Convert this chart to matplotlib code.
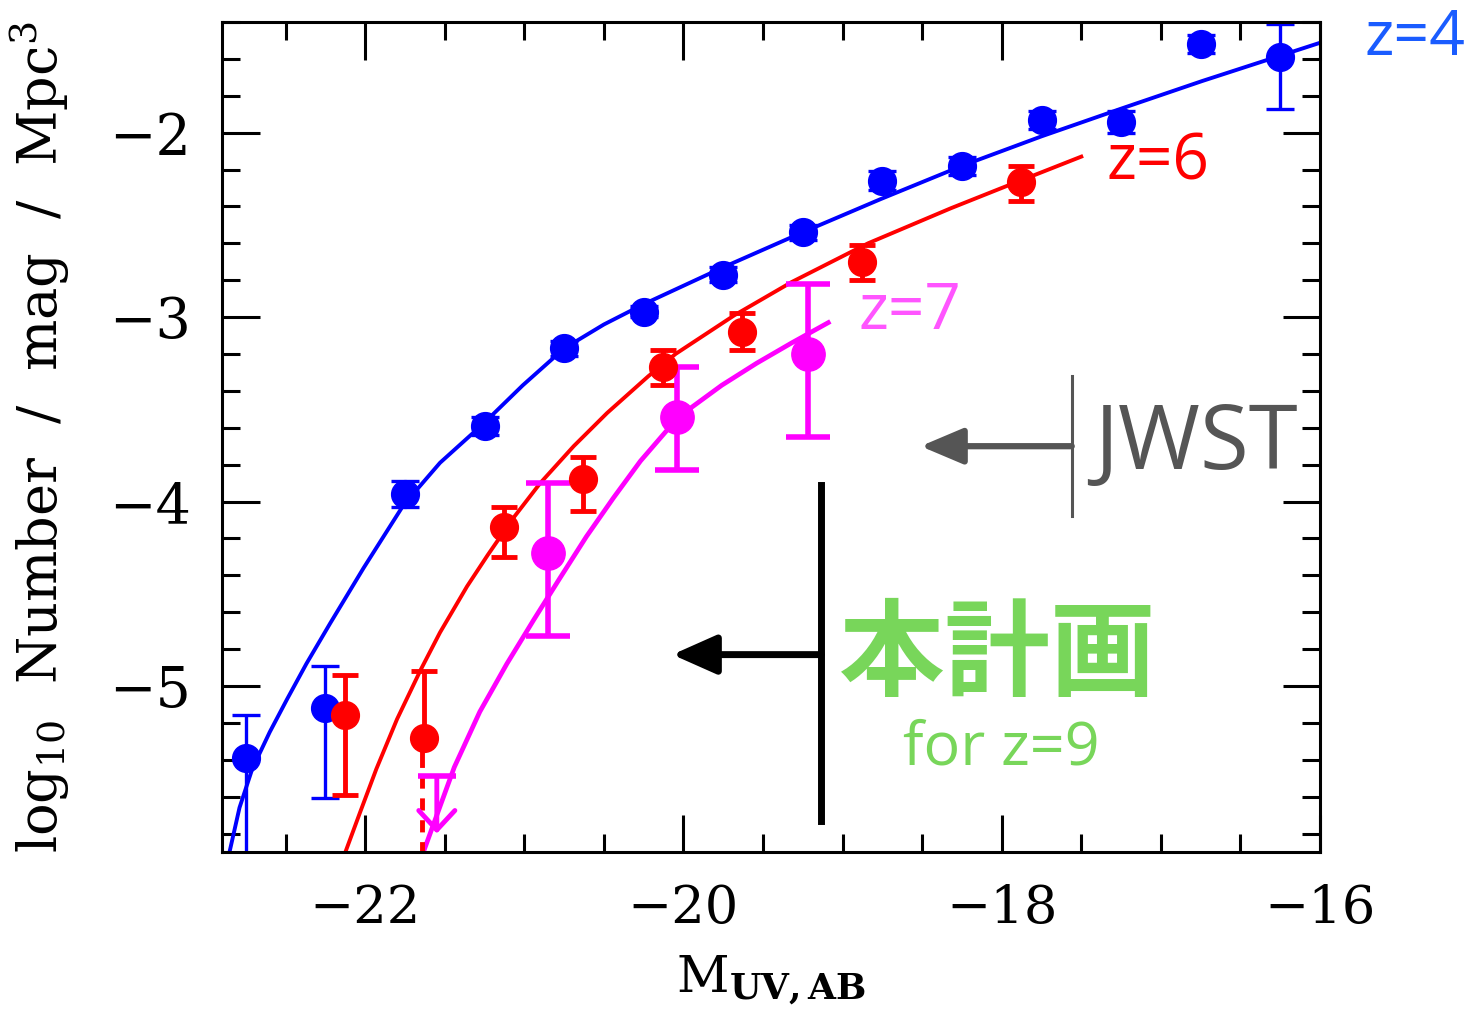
import numpy as np
import matplotlib
matplotlib.use("Agg")
import matplotlib.pyplot as plt
from matplotlib.ticker import MultipleLocator

plt.rcParams['mathtext.fontset'] = 'dejavuserif'

# z=4 data points
x4 = [-22.75, -22.25, -21.75, -21.25, -20.75, -20.25, -19.75, -19.25, -18.75, -18.25, -17.75, -17.25, -16.75, -16.25]
y4 = [-5.39, -5.12, -3.96, -3.59, -3.17, -2.97, -2.77, -2.54, -2.26, -2.18, -1.93, -1.94, -1.52, -1.59]
up4 = [0.23, 0.23, 0.07, 0.05, 0.04, 0.03, 0.04, 0.04, 0.05, 0.05, 0.05, 0.06, 0.05, 0.18]
lo4 = [0.70, 0.49, 0.07, 0.05, 0.04, 0.03, 0.04, 0.04, 0.05, 0.05, 0.05, 0.06, 0.05, 0.28]

# z=6 data points (second point: lower bar continues dashed)
x6 = [-22.13, -21.63, -21.13, -20.63, -20.13, -19.63, -18.88, -17.88]
y6 = [-5.16, -5.28, -4.14, -3.88, -3.27, -3.08, -2.70, -2.27]
up6 = [0.22, 0.36, 0.11, 0.12, 0.09, 0.10, 0.09, 0.09]
lo6 = [0.43, 0.00, 0.16, 0.17, 0.10, 0.10, 0.10, 0.10]
x6_tail = -21.64
y6_tail_solid = [-5.28, -5.43]
y6_tail_dash = [-5.49, -5.90]

# z=7 data points + upper limit
x7 = [-20.85, -20.04, -19.22]
y7 = [-4.28, -3.54, -3.20]
up7 = [0.38, 0.27, 0.38]
lo7 = [0.45, 0.29, 0.45]
x7_lim = -21.55
y7_lim = -5.49
y7_lim_tip = -5.80

# fitted curves
cx4 = [-22.85, -22.79, -22.71, -22.60, -22.49, -22.37, -22.22, -22.01, -21.76, -21.53, -21.26, -21.01,
       -20.75, -20.50, -20.25, -19.75, -19.25, -18.76, -18.25, -17.75, -17.25, -16.74, -16.24, -15.99]
cy4 = [-5.89, -5.66, -5.45, -5.25, -5.07, -4.88, -4.66, -4.36, -4.02, -3.79, -3.58, -3.37,
       -3.17, -3.04, -2.93, -2.73, -2.54, -2.36, -2.18, -2.02, -1.87, -1.72, -1.58, -1.51]
cx6 = [-22.12, -22.03, -21.93, -21.80, -21.65, -21.53, -21.36, -21.23, -21.07, -20.90,
       -20.69, -20.48, -20.22, -20.05, -19.68, -19.32, -18.84, -18.32, -18.00, -17.50]
cy6 = [-5.89, -5.68, -5.45, -5.18, -4.91, -4.71, -4.46, -4.29, -4.09, -3.90,
       -3.70, -3.52, -3.32, -3.20, -2.99, -2.81, -2.60, -2.41, -2.30, -2.13]
cx7 = [-21.63, -21.44, -21.28, -21.11, -20.94, -20.78, -20.61, -20.44, -20.27,
       -20.11, -19.95, -19.76, -19.54, -19.32, -19.09]
cy7 = [-5.89, -5.44, -5.14, -4.88, -4.64, -4.42, -4.19, -3.98, -3.78,
       -3.62, -3.49, -3.37, -3.25, -3.14, -3.03]

fig = plt.figure(figsize=(14.77, 10.18), dpi=100)
ax = fig.add_axes([0.1503, 0.1631, 0.7434, 0.8153])

ax.plot(cx4, cy4, color='#0000ff', lw=2.8)
ax.plot(cx6, cy6, color='#ff0000', lw=2.8)
ax.plot(cx7, cy7, color='#ff00ff', lw=3.4)

ax.errorbar(x4, y4, yerr=[lo4, up4], fmt='o', color='#0000ff', ms=20, elinewidth=2.4,
            capsize=10, capthick=2.4)
ax.plot([x6_tail, x6_tail], y6_tail_solid, color='#ff0000', lw=3.5)
ax.plot([x6_tail, x6_tail], y6_tail_dash, color='#ff0000', lw=3.5, ls=(0, (2.5, 2)))
ax.errorbar(x6, y6, yerr=[lo6, up6], fmt='o', color='#ff0000', ms=20, elinewidth=3.5,
            capsize=9.5, capthick=3.5)
ax.errorbar(x7, y7, yerr=[lo7, up7], fmt='o', color='#ff00ff', ms=24, elinewidth=4,
            capsize=16, capthick=4)
ax.plot([x7_lim], [y7_lim], marker='_', ms=27, mew=4, color='#ff00ff')
ax.annotate('', xy=(x7_lim, y7_lim_tip), xytext=(x7_lim, y7_lim),
            arrowprops=dict(arrowstyle='->,head_length=0.7,head_width=0.65', color='#ff00ff',
                            lw=3.5, mutation_scale=20, shrinkA=0, shrinkB=0))

ax.set_xlim(-22.9, -16)
ax.set_ylim(-5.9, -1.4)
ax.xaxis.set_major_locator(MultipleLocator(2))
ax.xaxis.set_minor_locator(MultipleLocator(0.5))
ax.yaxis.set_major_locator(MultipleLocator(1))
ax.yaxis.set_minor_locator(MultipleLocator(0.2))
ax.tick_params(which='both', direction='in', top=True, right=True, width=2.2)
ax.tick_params(which='major', length=27)
ax.tick_params(which='minor', length=13)
ax.tick_params(axis='x', which='major', labelsize=38, pad=22)
ax.tick_params(axis='y', which='major', labelsize=40, pad=22)
for lab in ax.get_xticklabels() + ax.get_yticklabels():
    lab.set_fontfamily('DejaVu Serif')
for s in ax.spines.values():
    s.set_linewidth(2.2)

ax.set_xlabel(r'M$_{\mathbf{UV,AB}}$', fontsize=37, family='DejaVu Serif', va='top')
ax.xaxis.set_label_coords(0.5, -0.122)
ax.set_ylabel(r'log$_{10}$  Number  /  mag  /  Mpc$^3$', fontsize=39,
              family='DejaVu Serif')
ax.yaxis.set_label_coords(-0.137, 0.5)

sans = ['Open Sans', 'DejaVu Sans']
ax.text(-15.72, -1.49, 'z=4', color='#1a5cff', fontsize=45, family=sans,
        va='center', ha='left', clip_on=False)
ax.text(-17.34, -2.16, 'z=6', color='#ff0000', fontsize=46, family=sans, va='center', ha='left')
ax.text(-18.90, -2.97, 'z=7', color='#ff55ff', fontsize=46, family=sans, va='center', ha='left')

# JWST marker
ax.plot([-17.56, -17.56], [-3.32, -4.08], color='#555555', lw=2.2)
ax.annotate('', xy=(-18.51, -3.70), xytext=(-17.56, -3.70),
            arrowprops=dict(arrowstyle='-|>,head_length=1.3,head_width=0.55', color='#555555',
                            lw=4.5, mutation_scale=20, shrinkA=0, shrinkB=0))
ax.text(-17.42, -3.70, 'JWST', color='#555555', fontsize=64, family=sans, va='center', ha='left')

# this project marker
ax.plot([-19.135, -19.135], [-3.91, -5.73], color='black', lw=5)
ax.annotate('', xy=(-20.07, -4.83), xytext=(-19.135, -4.83),
            arrowprops=dict(arrowstyle='-|>,head_length=1.35,head_width=0.6', color='black',
                            lw=5, mutation_scale=20, shrinkA=0, shrinkB=0))
ax.text(-19.02, -4.84, '本計画', color='#78d65a', fontsize=76,
        family=['Noto Sans CJK JP', 'DejaVu Sans'], fontweight='bold', va='center', ha='left')
ax.text(-18.0, -5.34, 'for z=9', color='#78d65a', fontsize=44, family=sans, va='center', ha='center')

fig.savefig('out.png', dpi=100)
